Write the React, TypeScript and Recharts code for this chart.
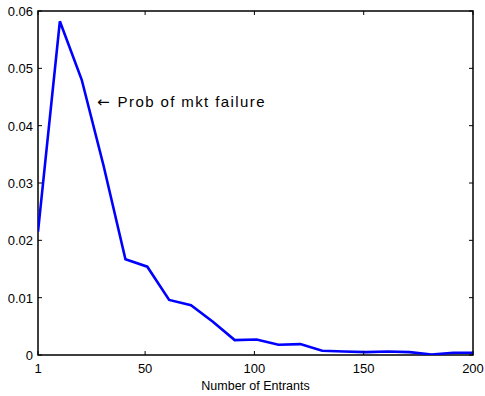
import React from "react";
import {
  LineChart,
  Line,
  XAxis,
  YAxis,
  ReferenceDot,
  ReferenceArea,
} from "recharts";

// Number of entrants sampled, and the probability of market failure at each
const entrants = [1, 11, 21, 31, 41, 51, 61, 71, 81, 91, 101, 111, 121, 131, 141, 151, 161, 171, 181, 191, 200];
const probFailure = [
  0.0215, 0.0582, 0.048, 0.033, 0.0167, 0.0154, 0.0096, 0.0087, 0.0058, 0.0026, 0.0027,
  0.0018, 0.0019, 0.00075, 0.0006, 0.0005, 0.0006, 0.0005, 0.0001, 0.0004, 0.0004,
];
const xTicks = [1, 50, 100, 150, 200];
const yTicks = [0, 0.01, 0.02, 0.03, 0.04, 0.05, 0.06];
const annotation = "Prob of mkt failure";

const data = entrants.map((n, i) => ({ n, p: probFailure[i] }));

const FONT = "'Liberation Sans', Arial, Helvetica, sans-serif";
const W = 485;
const H = 396;
const MARGIN = { top: 11, right: 12, left: 0, bottom: 0 };
const Y_AXIS_W = 38;
const X_AXIS_H = 41;
const PLOT_W = W - MARGIN.left - MARGIN.right - Y_AXIS_W;
const PLOT_H = H - MARGIN.top - MARGIN.bottom - X_AXIS_H;
const TICK_LEN = 4;
const X_TICK_GAP = 18;
const Y_TICK_GAP = 5;

// Bottom tick: label plus inward tick marks on the bottom and top frame edges
const XTick = (props: any) => {
  const { x, y, payload } = props;
  const base = y - X_TICK_GAP;
  const top = base - PLOT_H;
  return (
    <g>
      <line x1={x} x2={x} y1={base} y2={base - TICK_LEN} stroke="#000" />
      <line x1={x} x2={x} y1={top} y2={top + TICK_LEN} stroke="#000" />
      <text x={x} y={y} textAnchor="middle" fill="#000" fontSize={13} fontFamily={FONT}>
        {payload.value}
      </text>
    </g>
  );
};

// Left tick: label plus inward tick marks on the left and right frame edges
const YTick = (props: any) => {
  const { x, y, payload } = props;
  const left = x + Y_TICK_GAP;
  const right = left + PLOT_W;
  return (
    <g>
      <line x1={left} x2={left + TICK_LEN} y1={y} y2={y} stroke="#000" />
      <line x1={right} x2={right - TICK_LEN} y1={y} y2={y} stroke="#000" />
      <text x={x} y={y + 5} textAnchor="end" fill="#000" fontSize={13} fontFamily={FONT}>
        {payload.value}
      </text>
    </g>
  );
};

// Arrow plus caption, placed to the right of the anchor point
const ArrowLabel = (props: any) => {
  const vb = props.viewBox || {};
  const x = (vb.x ?? 0) + (vb.width ?? 0) / 2;
  const y = (vb.y ?? 0) + (vb.height ?? 0) / 2;
  return (
    <text x={x} y={y + 5.5} fill="#000" fontSize={15} fontFamily={FONT}>
      <tspan fontFamily="'DejaVu Sans', sans-serif" fontSize={15}>{"\u2190"}</tspan>
      <tspan dx={8} letterSpacing={1.4}>{annotation}</tspan>
    </text>
  );
};

export default function App() {
  return (
    <div style={{ position: "absolute", left: 0, top: 0, background: "#fff" }}>
      <LineChart width={W} height={H} data={data} margin={MARGIN}>
        <XAxis
          dataKey="n"
          type="number"
          domain={[1, 200]}
          ticks={xTicks}
          interval={0}
          height={X_AXIS_H}
          axisLine={false}
          tickLine={false}
          tickSize={0}
          tickMargin={X_TICK_GAP}
          tick={<XTick />}
          allowDataOverflow
          label={{
            value: "Number of Entrants",
            position: "insideBottom",
            offset: 6,
            fill: "#000",
            fontSize: 12.5,
            fontFamily: FONT,
          }}
        />
        <YAxis
          type="number"
          domain={[0, 0.06]}
          ticks={yTicks}
          interval={0}
          width={Y_AXIS_W}
          axisLine={false}
          tickLine={false}
          tickSize={0}
          tickMargin={Y_TICK_GAP}
          tick={<YTick />}
          allowDataOverflow
        />
        {/* plot frame */}
        <ReferenceArea
          x1={1}
          x2={200}
          y1={0}
          y2={0.06}
          fill="none"
          fillOpacity={0}
          stroke="#000"
          strokeWidth={1.5}
          ifOverflow="visible"
        />
        <Line
          type="linear"
          dataKey="p"
          stroke="#0000ff"
          strokeWidth={2.6}
          dot={false}
          isAnimationActive={false}
        />
        <ReferenceDot
          x={28}
          y={0.0442}
          r={0}
          fill="none"
          stroke="none"
          label={<ArrowLabel />}
        />
      </LineChart>
    </div>
  );
}
